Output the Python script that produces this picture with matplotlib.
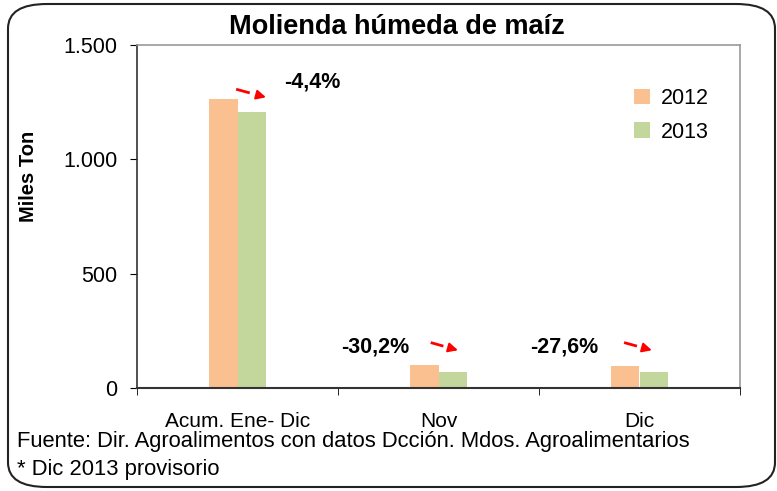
import matplotlib
matplotlib.use("Agg")
import matplotlib.pyplot as plt
from matplotlib.patches import FancyBboxPatch
import numpy as np

categorias = ["Acum. Ene- Dic", "Nov", "Dic"]
valores_2012 = [1264, 100, 96]
valores_2013 = [1207, 70, 70]
variaciones = ["-4,4%", "-30,2%", "-27,6%"]

col_2012 = "#FAC090"
col_2013 = "#C3D69B"

plt.rcParams['font.family'] = ['Liberation Sans', 'DejaVu Sans']

fig = plt.figure(figsize=(7.77, 4.91), dpi=100)
frame = FancyBboxPatch((8 / 777, 4 / 491), 767 / 777, 483 / 491,
                       boxstyle="round,pad=0,rounding_size=0.05",
                       transform=fig.transFigure, fill=False,
                       edgecolor="#222222", linewidth=1.5)
fig.patches.append(frame)

ax = fig.add_axes([137 / 777, 1 - 388 / 491, 603 / 777, 343 / 491])
x = np.arange(len(categorias))
w = 0.14
ax.bar(x - w / 2, valores_2012, w, color=col_2012, label="2012")
ax.bar(x + w / 2, valores_2013, w, color=col_2013, label="2013")

ax.set_xlim(-0.5, 2.5)
ax.set_ylim(0, 1500)
ax.set_yticks([0, 500, 1000, 1500])
ax.set_yticklabels(["0", "500", "1.000", "1.500"], fontsize=15.5)
ax.set_xticks(x)
ax.set_xticklabels(categorias, fontsize=15)
ax.set_xticks([-0.5, 0.5, 1.5, 2.5], minor=True)
ax.tick_params(axis='x', which='major', length=0, pad=17)
ax.tick_params(axis='x', which='minor', length=5, direction='out')
ax.tick_params(axis='y', length=5, direction='out', pad=9)

for s in ["top", "right"]:
    ax.spines[s].set_color("#999999")
    ax.spines[s].set_linewidth(1.2)
ax.spines["left"].set_color("#333333")
ax.spines["bottom"].set_color("#333333")
ax.spines["left"].set_linewidth(1.2)
ax.spines["bottom"].set_linewidth(1.5)

ax.set_ylabel("Miles Ton", fontsize=14.5, fontweight="bold")
ax.yaxis.set_label_coords(-0.164, 0.618)

# variaciones con flechas rojas
txt_pos = [(0.37, 1338), (0.684, 179), (1.624, 179)]
arr_pos = [((0.0, 1305), (0.155, 1268)), ((0.968, 197), (1.11, 162)),
           ((1.93, 197), (2.075, 162))]
for lab, tp, (a0, a1) in zip(variaciones, txt_pos, arr_pos):
    ax.text(tp[0], tp[1], lab, fontsize=15.5, fontweight="bold",
            ha="center", va="center")
    xm = a0[0] + (a1[0] - a0[0]) * 0.35
    ym = a0[1] + (a1[1] - a0[1]) * 0.35
    ax.plot([a0[0], xm], [a0[1], ym], color="red", lw=2)
    ax.annotate("", xy=a1, xytext=(a0[0] + (a1[0] - a0[0]) * 0.7,
                                   a0[1] + (a1[1] - a0[1]) * 0.7),
                arrowprops=dict(arrowstyle="-|>", color="red", lw=1.5,
                                mutation_scale=14))

ax.legend(loc="upper right", bbox_to_anchor=(0.962, 0.9), frameon=False,
          fontsize=15.5, handlelength=0.75, handleheight=0.75,
          handletextpad=0.5, labelspacing=0.6, borderaxespad=0)

fig.text(397 / 777, 1 - 27 / 491, "Molienda húmeda de maíz", fontsize=19.5,
         fontweight="bold", ha="center", va="center")
fig.text(17 / 777, 1 - 442 / 491,
         "Fuente: Dir. Agroalimentos con datos Dcción. Mdos. Agroalimentarios",
         fontsize=15.8, ha="left", va="center")
fig.text(17 / 777, 1 - 470 / 491, "* Dic 2013 provisorio",
         fontsize=15.8, ha="left", va="center")

fig.savefig("out.png", dpi=100)
